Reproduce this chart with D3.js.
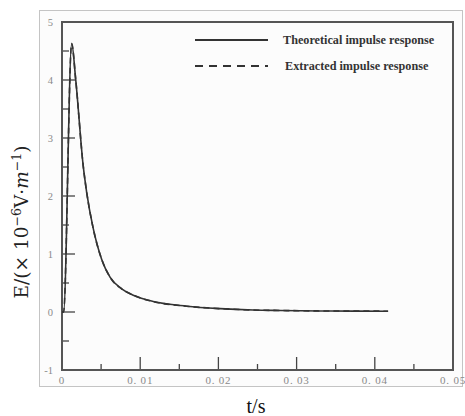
<!DOCTYPE html>
<html>
<head>
<meta charset="utf-8">
<script src="https://cdn.jsdelivr.net/npm/d3@7/dist/d3.min.js"></script>
<style>
  html, body { margin: 0; padding: 0; background: #fff; }
  svg { display: block; }
</style>
</head>
<body>
<svg id="chart" width="465" height="416"></svg>
<script>
// Time samples (s) and field values (×10^-6 V/m) of the impulse response
const timeS = [0, 0.0002, 0.00124, 0.00175, 0.00272, 0.00316, 0.00393, 0.00508, 0.00614,
               0.00763, 0.00912, 0.01168, 0.01595, 0.02021, 0.02446, 0.0279, 0.0343, 0.0417];
const theoretical = [0, 0, 4.63, 4.01, 2.51, 2.06, 1.48, 0.905, 0.60,
                     0.40, 0.29, 0.18, 0.10, 0.058, 0.034, 0.026, 0.017, 0.014];
const extracted = [0, 0, 4.63, 4.01, 2.51, 2.06, 1.48, 0.905, 0.60,
                   0.40, 0.29, 0.18, 0.10, 0.058, 0.034, 0.026, 0.017, 0.014];

const xTicks = [0, 0.01, 0.02, 0.03, 0.04, 0.05];
const xTickLabels = ["0", "0. 01", "0. 02", "0. 03", "0. 04", "0. 05"];
const xMinorTicks = [0.005, 0.015, 0.025, 0.035, 0.045];
const yTicks = [-1, 0, 1, 2, 3, 4, 5];
const yMinorTicks = [-0.5, 0.5, 1.5, 2.5, 3.5, 4.5];

const seriesNames = ["Theoretical impulse response", "Extracted impulse response"];

const svg = d3.select("#chart");
const plot = { left: 62, right: 453, top: 22, bottom: 370 };

const x = d3.scaleLinear().domain([0, 0.05]).range([plot.left, plot.right]);
const y = d3.scaleLinear().domain([-1, 5]).range([plot.bottom, plot.top]);

const labelFont = "'Liberation Serif', 'DejaVu Serif', serif";

// outer light frame
svg.append("rect")
  .attr("x", 39.5).attr("y", 10.5).attr("width", 423).attr("height", 376)
  .attr("fill", "#fcfcfc").attr("stroke", "#c4c4c4").attr("stroke-width", 1);

// inward tick marks
const ticks = svg.append("g").attr("stroke", "#444").attr("stroke-width", 1.3);
ticks.selectAll(".ymaj").data(yTicks).join("line")
  .attr("x1", plot.left).attr("x2", plot.left + 13)
  .attr("y1", d => y(d)).attr("y2", d => y(d));
ticks.selectAll(".ymin").data(yMinorTicks).join("line")
  .attr("x1", plot.left).attr("x2", plot.left + 7)
  .attr("y1", d => y(d)).attr("y2", d => y(d));
ticks.selectAll(".xmaj").data(xTicks).join("line")
  .attr("x1", d => x(d)).attr("x2", d => x(d))
  .attr("y1", plot.bottom).attr("y2", plot.bottom - 13);
ticks.selectAll(".xmin").data(xMinorTicks).join("line")
  .attr("x1", d => x(d)).attr("x2", d => x(d))
  .attr("y1", plot.bottom).attr("y2", plot.bottom - 6);

// tick labels
svg.append("g").selectAll("text").data(yTicks).join("text")
  .attr("x", plot.left - 9).attr("y", d => y(d)).attr("dy", "0.35em")
  .attr("text-anchor", "end")
  .attr("font-family", labelFont).attr("font-size", 10.5).attr("fill", "#8a8a8a")
  .text(d => d < 0 ? "-" + Math.abs(d) : String(d));
svg.append("g").selectAll("text").data(xTicks).join("text")
  .attr("x", d => x(d)).attr("y", plot.bottom + 10).attr("dy", "0.35em")
  .attr("text-anchor", "middle")
  .attr("font-family", labelFont).attr("font-size", 11).attr("letter-spacing", 0.8)
  .attr("fill", "#8a8a8a")
  .text((d, i) => xTickLabels[i]);

// plot frame
svg.append("rect")
  .attr("x", plot.left).attr("y", plot.top)
  .attr("width", plot.right - plot.left).attr("height", plot.bottom - plot.top)
  .attr("fill", "none").attr("stroke", "#555").attr("stroke-width", 2);

// curves
const line = d3.line().x((d, i) => x(timeS[i])).y(d => y(d)).curve(d3.curveMonotoneX);
svg.append("path").datum(theoretical)
  .attr("d", line).attr("fill", "none")
  .attr("stroke", "#333").attr("stroke-width", 1.6).attr("stroke-linejoin", "round");
svg.append("path").datum(extracted)
  .attr("d", line).attr("fill", "none")
  .attr("stroke", "#333").attr("stroke-width", 1.6).attr("stroke-dasharray", "6,4");

// legend
const legend = svg.append("g");
const legendRows = [{ y: 40, dash: null }, { y: 66, dash: "8,6" }];
legendRows.forEach((r, i) => {
  legend.append("line")
    .attr("x1", 195).attr("x2", 268).attr("y1", r.y).attr("y2", r.y)
    .attr("stroke", "#333").attr("stroke-width", 2)
    .attr("stroke-dasharray", r.dash);
  legend.append("text")
    .attr("x", i === 0 ? 283 : 285).attr("y", r.y).attr("dy", "0.35em")
    .attr("font-family", "'Liberation Serif', serif")
    .attr("font-weight", "bold").attr("font-size", 12.2).attr("fill", "#333")
    .text(seriesNames[i]);
});

// axis titles
svg.append("text")
  .attr("x", 256).attr("y", 413)
  .attr("text-anchor", "middle")
  .attr("font-family", "'Liberation Serif', serif")
  .attr("font-size", 20).attr("fill", "#111")
  .text("t/s");

const yTitle = svg.append("text")
  .attr("transform", "translate(28,222) rotate(-90)")
  .attr("text-anchor", "middle")
  .attr("font-family", "'DejaVu Serif', serif")
  .attr("font-size", 18.5).attr("fill", "#222");
yTitle.append("tspan").text("E/(× 10");
yTitle.append("tspan").attr("dy", -7).attr("font-size", 12.5).text("−6");
yTitle.append("tspan").attr("dy", 7).text("V·");
yTitle.append("tspan").attr("font-style", "italic").text("m");
yTitle.append("tspan").attr("dy", -7).attr("font-size", 12.5).text("−1");
yTitle.append("tspan").attr("dy", 7).text(")");
</script>
</body>
</html>
